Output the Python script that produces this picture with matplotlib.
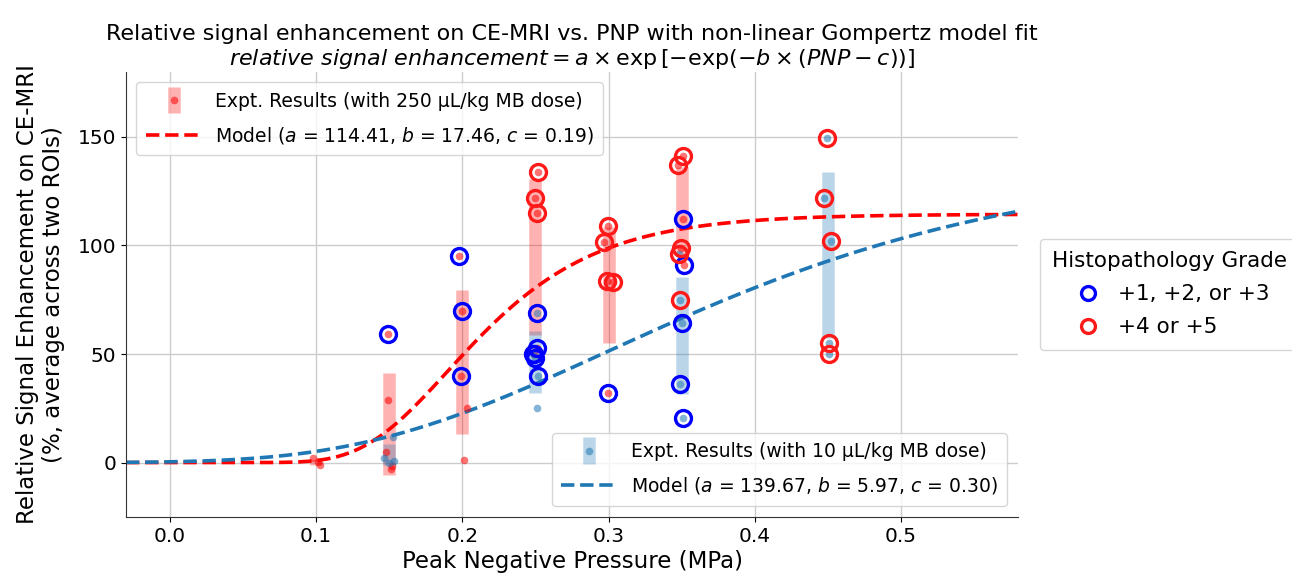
"""Relative signal enhancement vs PNP with Gompertz model fits."""

import matplotlib

matplotlib.use("Agg")
import matplotlib.pyplot as plt  # noqa: E402
import numpy as np  # noqa: E402
from matplotlib.legend_handler import HandlerErrorbar  # noqa: E402
from matplotlib.lines import Line2D  # noqa: E402

# 250 uL/kg MB dose experiments (x = PNP in MPa, y = enhancement in %)
hi_pnp = [0.098, 0.101, 0.103,
          0.149, 0.149, 0.148, 0.152, 0.151,
          0.198, 0.200, 0.199, 0.203, 0.201,
          0.2515, 0.250, 0.251, 0.251, 0.249,
          0.2994, 0.2967, 0.2987, 0.3028, 0.2994,
          0.3507, 0.3472, 0.3507, 0.3493, 0.3513]
hi_rse = [2.0, 0.3, -1.2,
          59.0, 28.6, 5.0, -1.4, -2.8,
          95.0, 70.0, 40.0, 25.0, 1.0,
          134.0, 122.0, 115.0, 53.0, 50.0,
          109.0, 101.5, 83.5, 83.0, 32.0,
          141.0, 137.0, 112.4, 99.0, 91.0]
# histopathology grade: 0 = not graded, 1 = +1/+2/+3, 2 = +4/+5
hi_grade = [0, 0, 0,
            1, 0, 0, 0, 0,
            1, 1, 1, 0, 0,
            2, 2, 2, 1, 1,
            2, 2, 2, 2, 1,
            2, 2, 1, 2, 1]

# 10 uL/kg MB dose experiments
lo_pnp = [0.1524, 0.1463, 0.153, 0.1497,
          0.251, 0.248, 0.250, 0.2515, 0.251,
          0.348, 0.3486, 0.350, 0.3486, 0.3507,
          0.449, 0.447, 0.4518, 0.4504, 0.451]
lo_rse = [12.0, 2.3, 0.5, 0.0,
          69.0, 50.0, 48.0, 40.0, 25.0,
          96.0, 75.0, 64.5, 36.4, 20.7,
          149.3, 122.0, 102.0, 55.0, 50.0]
lo_grade = [0, 0, 0, 0,
            1, 1, 1, 1, 0,
            2, 2, 1, 1, 1,
            2, 2, 2, 2, 2]

# fitted Gompertz parameters (a, b, c)
hi_fit = (114.41, 17.46, 0.19)
lo_fit = (139.67, 5.97, 0.30)

RED = "#ff0000"
BLUE = "#1f77b4"
RING_LOW = "#0000ff"
RING_HIGH = "#ff1a1a"


def gompertz(x, a, b, c):
    return a * np.exp(-np.exp(-b * (x - c)))


def group_stats(pnp, rse):
    pnp = np.asarray(pnp)
    rse = np.asarray(rse)
    nominal = np.round(pnp / 0.05) * 0.05
    xs = np.unique(nominal)
    means = np.array([rse[nominal == v].mean() for v in xs])
    stds = np.array([rse[nominal == v].std() for v in xs])
    return xs, means, stds


def main():
    fig = plt.figure(figsize=(12.92, 5.84), dpi=100)
    ax = fig.add_axes([0.0975, 0.115, 0.6905, 0.762])
    ax.set_axisbelow(True)
    ax.grid(True, color="#cccccc", linewidth=1.0)
    for side in ("top", "right"):
        ax.spines[side].set_visible(False)
    for side in ("left", "bottom"):
        ax.spines[side].set_color("#333333")

    # mean +/- std bars per pressure
    for pnp, rse, col in ((hi_pnp, hi_rse, RED), (lo_pnp, lo_rse, BLUE)):
        xs, m, s = group_stats(pnp, rse)
        ax.errorbar(xs, m, yerr=s, fmt="none", ecolor=col, alpha=0.3,
                    elinewidth=9, capsize=0, zorder=1)

    xx = np.linspace(-0.03, 0.58, 300)
    ax.plot(xx, gompertz(xx, *hi_fit), "--", color=RED, lw=2.6, zorder=2)
    ax.plot(xx, gompertz(xx, *lo_fit), "--", color=BLUE, lw=2.6, zorder=2)

    ax.plot(hi_pnp, hi_rse, "o", color=RED, alpha=0.55, ms=5.5, mew=0, zorder=3)
    ax.plot(lo_pnp, lo_rse, "o", color=BLUE, alpha=0.55, ms=5.5, mew=0, zorder=3)

    # grade rings
    px = np.array(hi_pnp + lo_pnp)
    py = np.array(hi_rse + lo_rse)
    gr = np.array(hi_grade + lo_grade)
    for g, col in ((1, RING_LOW), (2, RING_HIGH)):
        sel = gr == g
        ax.plot(px[sel], py[sel], "o", mfc="none", mec=col, ms=11.5, mew=2.4,
                zorder=4)

    ax.set_xlim(-0.03, 0.58)
    ax.set_ylim(-25, 180)
    ax.set_xticks([0.0, 0.1, 0.2, 0.3, 0.4, 0.5])
    ax.set_yticks([0, 50, 100, 150])
    ax.tick_params(labelsize=14.5)
    ax.set_xlabel("Peak Negative Pressure (MPa)", fontsize=16.5, labelpad=3)
    ax.set_ylabel("Relative Signal Enhancement on CE-MRI\n"
                  "(%, average across two ROIs)", fontsize=16.5, labelpad=9)
    ax.set_title(
        "Relative signal enhancement on CE-MRI vs. PNP with non-linear "
        "Gompertz model fit\n"
        r"$\mathit{relative\ signal\ enhancement} = a \times "
        r"\exp\left[-\exp(-b \times (PNP - c))\right]$",
        fontsize=16, pad=5, linespacing=1.15)

    # legend proxies
    hmap = {}
    hi_proxy = ax.errorbar([np.nan], [np.nan], yerr=[1], fmt="o",
                           color=(1, 0, 0, 0.55), ms=5.5, mew=0,
                           ecolor=(1, 0, 0, 0.3), elinewidth=9, capsize=0)
    lo_proxy = ax.errorbar([np.nan], [np.nan], yerr=[1], fmt="o",
                           color=(0.12, 0.47, 0.71, 0.55), ms=5.5, mew=0,
                           ecolor=(0.12, 0.47, 0.71, 0.3), elinewidth=9,
                           capsize=0)
    hmap[hi_proxy] = HandlerErrorbar(yerr_size=0.7)
    hmap[lo_proxy] = HandlerErrorbar(yerr_size=0.7)
    hi_line = Line2D([], [], ls="--", color=RED, lw=2.6)
    lo_line = Line2D([], [], ls="--", color=BLUE, lw=2.6)

    a, b, c = hi_fit
    leg1 = ax.legend(
        [hi_proxy, hi_line],
        ["Expt. Results (with 250 µL/kg MB dose)",
         f"Model ($a$ = {a:.2f}, $b$ = {b:.2f}, $c$ = {c:.2f})"],
        loc="upper left", fontsize=13.5, handlelength=3.0, handletextpad=0.7,
        handler_map=hmap, borderaxespad=0.55, labelspacing=0.75,
        borderpad=0.5)
    ax.add_artist(leg1)

    a, b, c = lo_fit
    leg2 = ax.legend(
        [lo_proxy, lo_line],
        ["Expt. Results (with 10 µL/kg MB dose)",
         f"Model ($a$ = {a:.2f}, $b$ = {b:.2f}, $c$ = {c:.2f})"],
        loc="lower right", fontsize=13.5, handlelength=3.0, handletextpad=0.7,
        handler_map=hmap, borderaxespad=0.6, labelspacing=0.75,
        borderpad=0.5)
    ax.add_artist(leg2)

    ring_handles = [
        Line2D([], [], ls="none", marker="o", mfc="none", mec=RING_LOW,
               ms=10, mew=2.4),
        Line2D([], [], ls="none", marker="o", mfc="none", mec=RING_HIGH,
               ms=10, mew=2.4),
    ]
    ax.legend(ring_handles, ["+1, +2, or +3", "+4 or +5"],
              title="Histopathology Grade", title_fontsize=15.5, fontsize=15.5,
              loc="center left", bbox_to_anchor=(1.012, 0.5),
              handlelength=1.6, handletextpad=0.6, labelspacing=0.6,
              borderpad=0.6)

    fig.savefig("out.png", dpi=100)
    plt.close(fig)


if __name__ == "__main__":
    main()
